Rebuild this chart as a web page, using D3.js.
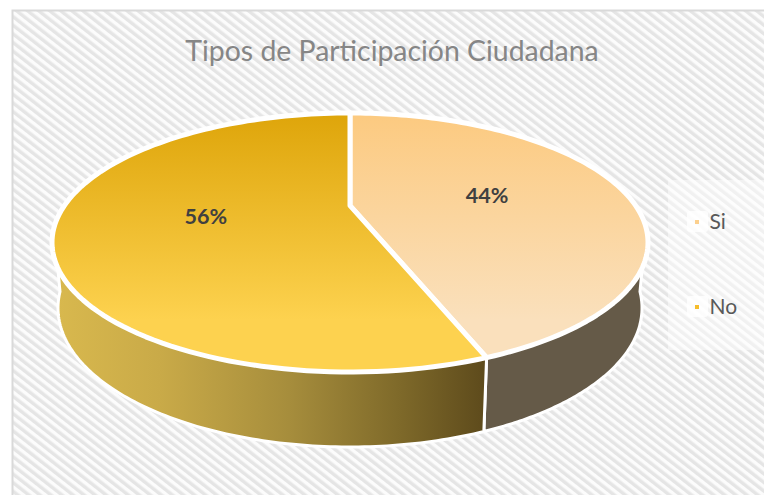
<!doctype html>
<html>
<head>
  <meta charset="utf-8">
  <script src="https://cdnjs.cloudflare.com/ajax/libs/d3/7.8.5/d3.min.js"></script>
  <style>
    body { margin: 0; background: #fff; }
    svg { display: block; font-family: Lato, "Open Sans", sans-serif; }
  </style>
</head>
<body>
<svg height="495" width="764"></svg>
<script type="text/javascript">
var categories = ["Si", "No"];
var values = [44.3, 55.7];
var topFrom = ["#fcca80", "#dea50a"];
var topTo = ["#fae0bc", "#fdd24f"];
var keyColors = ["#fcd08e", "#f6bd2c"];

var svg = d3.select("svg");
var defs = svg.append("defs");

// background stripes
var pattern = defs.append("pattern")
  .attr("id", "stripes")
  .attr("patternUnits", "userSpaceOnUse")
  .attr("width", 6.8).attr("height", 6.8)
  .attr("patternTransform", "rotate(38)");
pattern.append("rect").attr("width", 6.8).attr("height", 6.8).attr("fill", "#fcfcfc");
pattern.append("rect").attr("y", 3.4).attr("width", 6.8).attr("height", 3.4).attr("fill", "#e5e5e5");

svg.append("rect")
  .attr("x", 12.5).attr("y", 10.5)
  .attr("width", 770).attr("height", 500)
  .attr("fill", "url(#stripes)")
  .attr("stroke", "#d9d9d9").attr("stroke-width", 2);

// pale area behind the legend
svg.append("rect")
  .attr("x", 668).attr("y", 180).attr("width", 96).attr("height", 170)
  .attr("fill", "#fff").attr("opacity", 0.45);

// scales for the top disc and for the lower rim
var topX = d3.scaleLinear().domain([-1, 1]).range([52, 648]);
var topY = d3.scaleLinear().domain([-1, 1]).range([113, 372]);
var lowX = d3.scaleLinear().domain([-1, 1]).range([58, 642]);
var lowY = d3.scaleLinear().domain([-1, 1]).range([169, 447]);

// the centre of the disc sits above the centre of the ellipse (perspective)
var tilt = -0.285;
function perspective(theta, r) {
  var u = Math.sin(theta) * r, v = -Math.cos(theta) * r;
  var d = 1 + tilt * v;
  return [u * Math.sqrt(1 - tilt * tilt) / d, (v + tilt) / d];
}
function topPoint(theta, r) {
  var p = perspective(theta, r);
  return [topX(p[0]), topY(p[1])];
}
function lowPoint(theta) {
  var p = perspective(theta, 1);
  return [lowX(p[0]), lowY(p[1])];
}

var arcs = d3.pie().sort(null)(values);
var line = d3.line();
var rimAngle = Math.PI * 100 / 180; // where the side wall starts/ends on each side

function samples(a, b) {
  return d3.range(0, 121).map(i => a + (b - a) * i / 120);
}

// side walls
var sideGrad = defs.append("linearGradient").attr("id", "sideNo")
  .attr("gradientUnits", "userSpaceOnUse")
  .attr("x1", topX(-1)).attr("x2", lowPoint(arcs[0].endAngle)[0]).attr("y1", 0).attr("y2", 0);
sideGrad.selectAll("stop").data([[0, "#d9b94e"], [0.25, "#c9aa48"], [0.55, "#a68d3c"], [0.8, "#7f6a2a"], [1, "#5e4b1c"]])
  .enter().append("stop")
  .attr("offset", d => d[0]).attr("stop-color", d => d[1]);

var sideRanges = [[rimAngle, arcs[0].endAngle], [arcs[1].startAngle, Math.PI * 2 - rimAngle]];
svg.selectAll(".side").data(sideRanges).enter().append("path")
  .attr("class", "side")
  .attr("d", d => {
    var upper = samples(d[0], d[1]).map(t => topPoint(t, 1));
    var lower = samples(d[1], d[0]).map(t => lowPoint(t));
    return line(upper.concat(lower)) + "Z";
  })
  .attr("fill", (d, i) => i == 0 ? "#655a48" : "url(#sideNo)")
  .attr("stroke", "#fff").attr("stroke-width", 3).attr("stroke-linejoin", "round");

// top slices
var grads = defs.selectAll(".topgrad").data(arcs).enter().append("linearGradient")
  .attr("class", "topgrad")
  .attr("id", (d, i) => "top" + i)
  .attr("gradientUnits", "userSpaceOnUse")
  .attr("x1", 0).attr("x2", 0).attr("y1", topY(-1)).attr("y2", topY(0.6));
grads.append("stop").attr("offset", 0).attr("stop-color", (d, i) => topFrom[i]);
grads.append("stop").attr("offset", 1).attr("stop-color", (d, i) => topTo[i]);

svg.selectAll(".slice").data(arcs).enter().append("path")
  .attr("class", "slice")
  .attr("d", d => {
    var rim = samples(d.startAngle, d.endAngle).map(t => topPoint(t, 1));
    return line([topPoint(0, 0)].concat(rim)) + "Z";
  })
  .attr("fill", (d, i) => "url(#top" + i + ")")
  .attr("stroke", "#fff").attr("stroke-width", 5).attr("stroke-linejoin", "round");

// data labels
svg.selectAll(".label").data(arcs).enter().append("text")
  .attr("class", "label")
  .attr("x", d => topPoint((d.startAngle + d.endAngle) / 2, 0.5)[0])
  .attr("y", d => topPoint((d.startAngle + d.endAngle) / 2, 0.5)[1])
  .attr("dy", "0.35em")
  .attr("text-anchor", "middle")
  .attr("font-size", 21.5).attr("font-weight", 700)
  .attr("fill", "#404040")
  .text(d => Math.round(d.value) + "%");

// title
svg.append("text")
  .attr("x", 392).attr("y", 61)
  .attr("text-anchor", "middle")
  .attr("font-size", 28.4).attr("font-weight", 400)
  .attr("fill", "#868686")
  .text("Tipos de Participación Ciudadana");

// legend
var legendY = d3.scalePoint().domain(categories).range([222, 307]);
var legend = svg.selectAll(".legend").data(categories).enter().append("g")
  .attr("class", "legend")
  .attr("transform", d => "translate(0," + legendY(d) + ")");
legend.append("rect")
  .attr("x", 687).attr("y", -11).attr("width", 21).attr("height", 21).attr("rx", 3)
  .attr("fill", "#fff").attr("opacity", 0.8);
legend.append("rect")
  .attr("x", 695).attr("y", -2).attr("width", 4).attr("height", 4)
  .attr("fill", (d, i) => keyColors[i]);
legend.append("text")
  .attr("x", 709.5).attr("y", 0).attr("dy", "0.35em")
  .attr("font-size", 21)
  .attr("fill", "#595959")
  .text(d => d);
</script>
</body>
</html>
